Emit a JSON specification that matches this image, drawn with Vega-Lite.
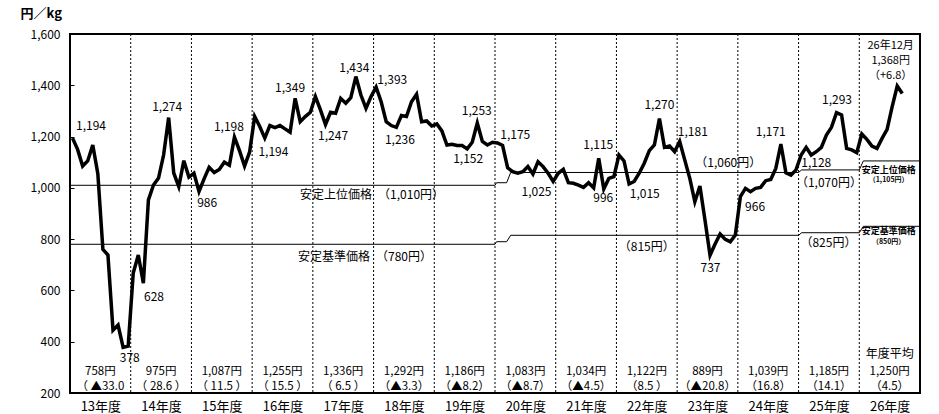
{
  "$schema": "https://vega.github.io/schema/vega-lite/v6.json",
  "width": 850,
  "height": 359,
  "autosize": "none",
  "padding": {"left": 70, "top": 34, "right": 19, "bottom": 21},
  "background": "white",
  "config": {
    "view": {"stroke": "black", "strokeWidth": 2},
    "font": "Noto Sans CJK JP",
    "text": {"font": "Noto Sans CJK JP", "color": "black"}
  },
  "datasets": {
    "price": [
      {"m":0.5,"v":1194},{"m":1.5,"v":1150},{"m":2.5,"v":1085},{"m":3.5,"v":1105},{"m":4.5,"v":1167},{"m":5.5,"v":1055},{"m":6.5,"v":760},{"m":7.5,"v":738},{"m":8.5,"v":445},{"m":9.5,"v":465},{"m":10.5,"v":378},{"m":11.5,"v":383},
      {"m":12.5,"v":668},{"m":13.5,"v":738},{"m":14.5,"v":628},{"m":15.5,"v":953},{"m":16.5,"v":1011},{"m":17.5,"v":1038},{"m":18.5,"v":1128},{"m":19.5,"v":1274},{"m":20.5,"v":1058},{"m":21.5,"v":1005},{"m":22.5,"v":1106},{"m":23.5,"v":1042},
      {"m":24.5,"v":1057},{"m":25.5,"v":986},{"m":26.5,"v":1035},{"m":27.5,"v":1080},{"m":28.5,"v":1060},{"m":29.5,"v":1072},{"m":30.5,"v":1100},{"m":31.5,"v":1088},{"m":32.5,"v":1198},{"m":33.5,"v":1145},{"m":34.5,"v":1085},{"m":35.5,"v":1140},
      {"m":36.5,"v":1278},{"m":37.5,"v":1239},{"m":38.5,"v":1194},{"m":39.5,"v":1243},{"m":40.5,"v":1235},{"m":41.5,"v":1243},{"m":42.5,"v":1230},{"m":43.5,"v":1217},{"m":44.5,"v":1349},{"m":45.5,"v":1258},{"m":46.5,"v":1278},{"m":47.5,"v":1295},
      {"m":48.5,"v":1356},{"m":49.5,"v":1304},{"m":50.5,"v":1247},{"m":51.5,"v":1295},{"m":52.5,"v":1291},{"m":53.5,"v":1349},{"m":54.5,"v":1330},{"m":55.5,"v":1352},{"m":56.5,"v":1434},{"m":57.5,"v":1362},{"m":58.5,"v":1310},{"m":59.5,"v":1356},
      {"m":60.5,"v":1393},{"m":61.5,"v":1336},{"m":62.5,"v":1258},{"m":63.5,"v":1243},{"m":64.5,"v":1236},{"m":65.5,"v":1282},{"m":66.5,"v":1278},{"m":67.5,"v":1336},{"m":68.5,"v":1365},{"m":69.5,"v":1258},{"m":70.5,"v":1261},{"m":71.5,"v":1241},
      {"m":72.5,"v":1249},{"m":73.5,"v":1222},{"m":74.5,"v":1167},{"m":75.5,"v":1170},{"m":76.5,"v":1165},{"m":77.5,"v":1165},{"m":78.5,"v":1152},{"m":79.5,"v":1178},{"m":80.5,"v":1253},{"m":81.5,"v":1181},{"m":82.5,"v":1167},{"m":83.5,"v":1178},
      {"m":84.5,"v":1175},{"m":85.5,"v":1165},{"m":86.5,"v":1078},{"m":87.5,"v":1063},{"m":88.5,"v":1057},{"m":89.5,"v":1063},{"m":90.5,"v":1083},{"m":91.5,"v":1054},{"m":92.5,"v":1102},{"m":93.5,"v":1083},{"m":94.5,"v":1057},{"m":95.5,"v":1025},
      {"m":96.5,"v":1057},{"m":97.5,"v":1072},{"m":98.5,"v":1020},{"m":99.5,"v":1018},{"m":100.5,"v":1011},{"m":101.5,"v":1002},{"m":102.5,"v":1020},{"m":103.5,"v":1000},{"m":104.5,"v":1115},{"m":105.5,"v":996},{"m":106.5,"v":1037},{"m":107.5,"v":1044},
      {"m":108.5,"v":1128},{"m":109.5,"v":1105},{"m":110.5,"v":1015},{"m":111.5,"v":1025},{"m":112.5,"v":1057},{"m":113.5,"v":1096},{"m":114.5,"v":1145},{"m":115.5,"v":1167},{"m":116.5,"v":1270},{"m":117.5,"v":1158},{"m":118.5,"v":1163},{"m":119.5,"v":1141},
      {"m":120.5,"v":1181},{"m":121.5,"v":1109},{"m":122.5,"v":1037},{"m":123.5,"v":946},{"m":124.5,"v":1007},{"m":125.5,"v":875},{"m":126.5,"v":737},{"m":127.5,"v":781},{"m":128.5,"v":820},{"m":129.5,"v":799},{"m":130.5,"v":790},{"m":131.5,"v":816},
      {"m":132.5,"v":966},{"m":133.5,"v":998},{"m":134.5,"v":985},{"m":135.5,"v":998},{"m":136.5,"v":1002},{"m":137.5,"v":1028},{"m":138.5,"v":1033},{"m":139.5,"v":1076},{"m":140.5,"v":1171},{"m":141.5,"v":1059},{"m":142.5,"v":1050},{"m":143.5,"v":1070},
      {"m":144.5,"v":1128},{"m":145.5,"v":1158},{"m":146.5,"v":1128},{"m":147.5,"v":1141},{"m":148.5,"v":1158},{"m":149.5,"v":1206},{"m":150.5,"v":1236},{"m":151.5,"v":1293},{"m":152.5,"v":1284},{"m":153.5,"v":1154},{"m":154.5,"v":1148},{"m":155.5,"v":1137},
      {"m":156.5,"v":1210},{"m":157.5,"v":1189},{"m":158.5,"v":1163},{"m":159.5,"v":1154},{"m":160.5,"v":1193},{"m":161.5,"v":1228},{"m":162.5,"v":1317},{"m":163.5,"v":1397},{"m":164.5,"v":1368}
    ],
    "ref": [
      {"s":"upper","m":0,"v":1010},{"s":"upper","m":84,"v":1010},{"s":"upper","m":84.3,"v":1020},{"s":"upper","m":86.3,"v":1020},{"s":"upper","m":87.1,"v":1060},{"s":"upper","m":144,"v":1060},{"s":"upper","m":144.6,"v":1070},{"s":"upper","m":156,"v":1070},{"s":"upper","m":156.8,"v":1105},{"s":"upper","m":168,"v":1105},
      {"s":"lower","m":0,"v":780},{"s":"lower","m":84,"v":780},{"s":"lower","m":84.3,"v":790},{"s":"lower","m":86.3,"v":790},{"s":"lower","m":87.1,"v":815},{"s":"lower","m":144,"v":815},{"s":"lower","m":144.6,"v":825},{"s":"lower","m":156,"v":825},{"s":"lower","m":156.8,"v":850},{"s":"lower","m":168,"v":850}
    ],
    "div": [
      {"m":12},{"m":24},{"m":36},{"m":48},{"m":60},{"m":72},{"m":84},{"m":96},{"m":108},{"m":120},{"m":132},{"m":144},{"m":156}
    ],
    "lab": [
      {"m":4.15,"v":1241,"t":"1,194"},
      {"m":19.2,"v":1315,"t":"1,274"},
      {"m":31.4,"v":1236,"t":"1,198"},
      {"m":27.1,"v":942,"t":"986"},
      {"m":40.2,"v":1139,"t":"1,194"},
      {"m":43.5,"v":1388,"t":"1,349"},
      {"m":11.8,"v":337,"t":"378"},
      {"m":16.6,"v":573,"t":"628"},
      {"m":56.2,"v":1466,"t":"1,434"},
      {"m":63.7,"v":1421,"t":"1,393"},
      {"m":52.0,"v":1202,"t":"1,247"},
      {"m":65.2,"v":1187,"t":"1,236"},
      {"m":80.4,"v":1300,"t":"1,253"},
      {"m":78.7,"v":1113,"t":"1,152"},
      {"m":88.0,"v":1206,"t":"1,175"},
      {"m":92.2,"v":985,"t":"1,025"},
      {"m":104.4,"v":1167,"t":"1,115"},
      {"m":105.4,"v":959,"t":"996"},
      {"m":116.5,"v":1323,"t":"1,270"},
      {"m":123.1,"v":1217,"t":"1,181"},
      {"m":113.6,"v":975,"t":"1,015"},
      {"m":138.5,"v":1219,"t":"1,171"},
      {"m":135.4,"v":924,"t":"966"},
      {"m":126.6,"v":686,"t":"737"},
      {"m":151.6,"v":1343,"t":"1,293"},
      {"m":147.5,"v":1096,"t":"1,128"},
      {"m":130.1,"v":1098,"t":"（1,060円）"},
      {"m":150.0,"v":1020,"t":"（1,070円）"},
      {"m":114.0,"v":771,"t":"（815円）"},
      {"m":149.9,"v":786,"t":"（825円）"},
      {"m":59.7,"v":974,"t":"安定上位価格　（1,010円）"},
      {"m":58.3,"v":732,"t":"安定基準価格　（780円）"},
      {"m":162,"v":352,"t":"年度平均"}
    ],
    "latest": [
      {"m":162.2,"v":1575,"t":"26年12月\n1,368円\n（+6.8）"}
    ],
    "avg": [
      {"m":6,"v":281,"t":"758円"},{"m":6,"v":222,"t":"（ ▲33.0"},
      {"m":18,"v":281,"t":"975円"},{"m":18,"v":222,"t":"（ 28.6 ）"},
      {"m":30,"v":281,"t":"1,087円"},{"m":30,"v":222,"t":"（ 11.5 ）"},
      {"m":42,"v":281,"t":"1,255円"},{"m":42,"v":222,"t":"（ 15.5 ）"},
      {"m":54,"v":281,"t":"1,336円"},{"m":54,"v":222,"t":"（ 6.5 ）"},
      {"m":66,"v":281,"t":"1,292円"},{"m":66,"v":222,"t":"（▲3.3）"},
      {"m":78,"v":281,"t":"1,186円"},{"m":78,"v":222,"t":"（▲8.2）"},
      {"m":90,"v":281,"t":"1,083円"},{"m":90,"v":222,"t":"（▲8.7）"},
      {"m":102,"v":281,"t":"1,034円"},{"m":102,"v":222,"t":"（▲4.5）"},
      {"m":114,"v":281,"t":"1,122円"},{"m":114,"v":222,"t":"（8.5 ）"},
      {"m":126,"v":281,"t":"889円"},{"m":126,"v":222,"t":"（▲20.8）"},
      {"m":138,"v":281,"t":"1,039円"},{"m":138,"v":222,"t":"（16.8）"},
      {"m":150,"v":281,"t":"1,185円"},{"m":150,"v":222,"t":"（14.1）"},
      {"m":162,"v":281,"t":"1,250円"},{"m":162,"v":222,"t":"（4.5）"}
    ],
    "small": [
      {"m":161.8,"v":1069,"t":"安定上位価格"},
      {"m":161.8,"v":831,"t":"安定基準価格"}
    ],
    "tiny": [
      {"m":161.8,"v":1029,"t":"（1,105円）"},
      {"m":161.8,"v":788,"t":"（850円）"}
    ]
  },
  "layer": [
    {
      "data": {"name": "div"},
      "mark": {"type": "rule", "color": "black", "strokeWidth": 1, "strokeDash": [2, 2]},
      "encoding": {
        "x": {"field": "m", "type": "quantitative", "scale": {"domain": [0, 168], "nice": false, "zero": false},
          "axis": {"values": [6,18,30,42,54,66,78,90,102,114,126,138,150,162], "labelExpr": "(floor(datum.value/12)+13) + '年度'", "ticks": false, "domain": false, "grid": false, "labelFontSize": 13, "labelColor": "black", "labelPadding": 7, "labelFont": "Noto Sans CJK JP", "title": null}}
      }
    },
    {
      "data": {"name": "price"},
      "mark": {"type": "line", "color": "black", "strokeWidth": 3.5, "strokeJoin": "miter"},
      "encoding": {
        "x": {"field": "m", "type": "quantitative"},
        "y": {"field": "v", "type": "quantitative", "scale": {"domain": [200, 1600], "nice": false, "zero": false},
          "axis": {"values": [200,400,600,800,1000,1200,1400,1600], "labelExpr": "format(datum.value, ',.0f')", "grid": false, "domain": false, "tickSize": -4, "tickColor": "black", "labelPadding": 14, "labelFontSize": 12, "labelColor": "black", "labelFont": "Noto Sans CJK JP",
            "title": "円／kg", "titleAngle": 0, "titleAlign": "left", "titleBaseline": "middle", "titleX": -50, "titleY": -21, "titleFontSize": 13, "titleFontWeight": "bold", "titleFont": "Noto Sans CJK JP", "titleColor": "black"}}
      }
    },
    {
      "data": {"name": "ref"},
      "mark": {"type": "line", "color": "black", "strokeWidth": 1},
      "encoding": {
        "x": {"field": "m", "type": "quantitative"},
        "y": {"field": "v", "type": "quantitative"},
        "detail": {"field": "s"}
      }
    },
    {
      "data": {"name": "lab"},
      "mark": {"type": "text", "fontSize": 12, "align": "center", "baseline": "middle"},
      "encoding": {
        "x": {"field": "m", "type": "quantitative"},
        "y": {"field": "v", "type": "quantitative"},
        "text": {"field": "t"}
      }
    },
    {
      "data": {"name": "latest"},
      "mark": {"type": "text", "fontSize": 11, "align": "center", "baseline": "top", "lineBreak": "\n", "lineHeight": 15},
      "encoding": {
        "x": {"field": "m", "type": "quantitative"},
        "y": {"field": "v", "type": "quantitative"},
        "text": {"field": "t"}
      }
    },
    {
      "data": {"name": "avg"},
      "mark": {"type": "text", "fontSize": 11.5, "align": "center", "baseline": "middle"},
      "encoding": {
        "x": {"field": "m", "type": "quantitative"},
        "y": {"field": "v", "type": "quantitative"},
        "text": {"field": "t"}
      }
    },
    {
      "data": {"name": "small"},
      "mark": {"type": "text", "fontSize": 9, "fontWeight": "bold", "align": "center", "baseline": "middle"},
      "encoding": {
        "x": {"field": "m", "type": "quantitative"},
        "y": {"field": "v", "type": "quantitative"},
        "text": {"field": "t"}
      }
    },
    {
      "data": {"name": "tiny"},
      "mark": {"type": "text", "fontSize": 7, "fontWeight": "bold", "align": "center", "baseline": "middle"},
      "encoding": {
        "x": {"field": "m", "type": "quantitative"},
        "y": {"field": "v", "type": "quantitative"},
        "text": {"field": "t"}
      }
    }
  ]
}
